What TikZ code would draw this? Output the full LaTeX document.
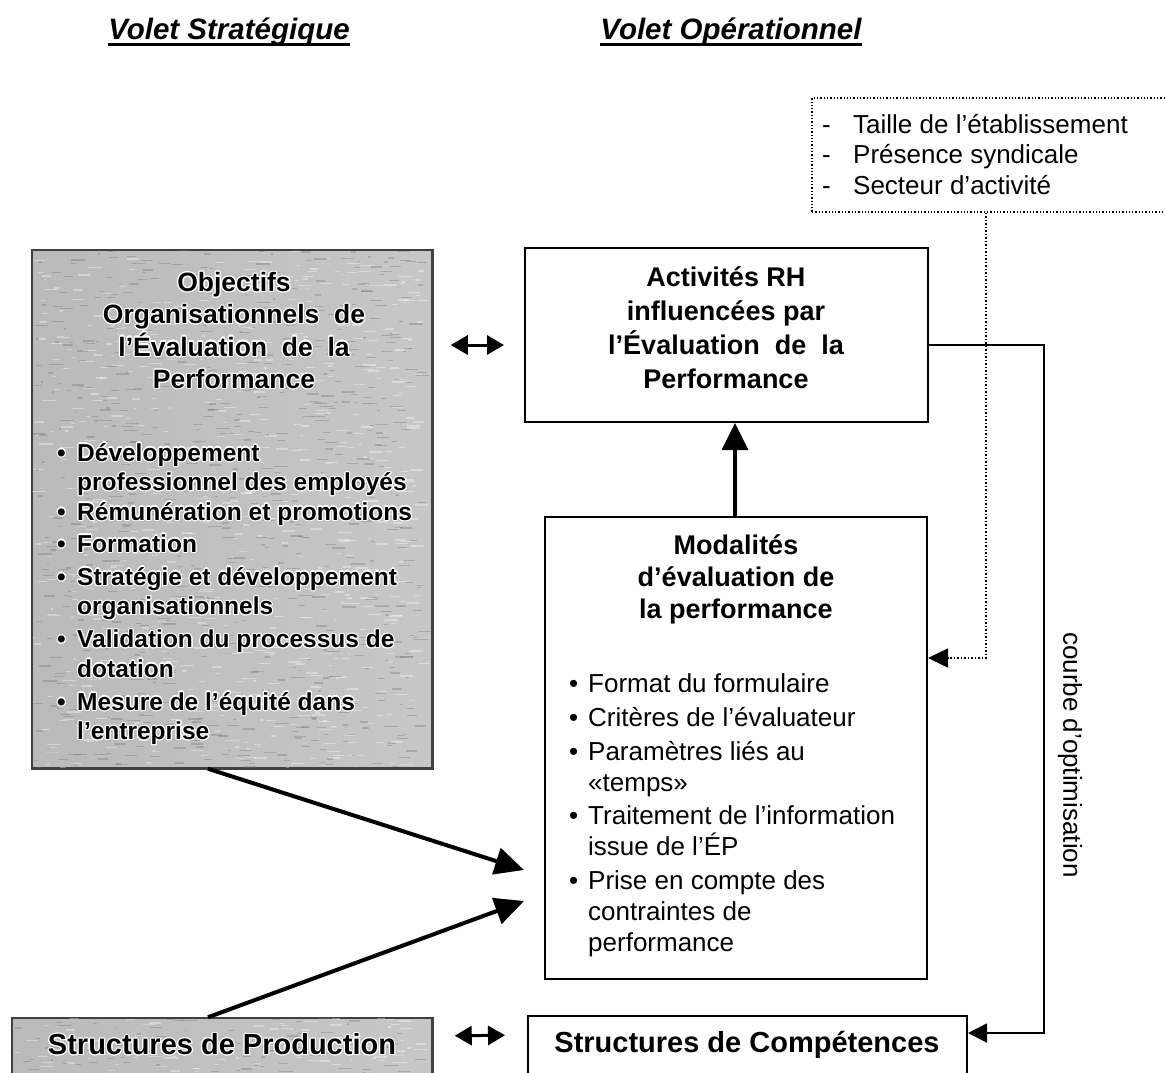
\documentclass[tikz,border=0pt]{standalone}
\usepackage{fontspec}
\setmainfont{Liberation Sans}
\usepackage{contour}
\contourlength{1.2pt}
\contournumber{12}
\usetikzlibrary{arrows.meta,calc}

% grey background of the strategic boxes: darker on the left edge
\pgfdeclarehorizontalshading{grain}{100bp}{color(0bp)=(black!60); color(6bp)=(black!42); color(18bp)=(black!28); color(100bp)=(black!19)}

\newcommand\blt[1]{\makebox[#1][l]{\textbullet}}
\newcommand\ind[1]{\hspace*{#1}}
\newcommand\hl[1]{\contour{white}{#1}}

% scattered streaks giving the printed grain: x0, y0, width, height, count
\newcommand\speckle[5]{%
  \foreach \k in {1,...,#5}{%
    \pgfmathsetmacro\px{#1+(#3-14)*rnd}%
    \pgfmathsetmacro\py{#2+#4*rnd}%
    \pgfmathsetmacro\pl{2+12*rnd}%
    \pgfmathsetmacro\pc{ifthenelse(rnd<0.5,55,0)}%
    \fill[black!\pc, opacity=0.35] (\px,\py) rectangle ++(\pl,1.3);
  }}

\tikzset{
  whitebox/.style={draw, line width=2pt, fill=white, inner sep=0pt},
  greybox/.style={draw=black!75, line width=1.5pt, shading=grain, inner sep=0pt},
  dotbox/.style={draw, dotted, line width=1.3pt, inner sep=0pt},
  txt/.style={inner sep=0pt},
  heading/.style={txt, font=\bfseries\itshape\fontsize{29.5}{34}\selectfont},
  bigarrow/.style={line width=4pt, -{Triangle[length=29pt,width=27pt]}},
  uparrow/.style={line width=3.5pt, -{Triangle[length=27pt,width=26pt]}},
  dblarrow/.style={line width=3pt, {Triangle[length=17pt,width=19pt]}-{Triangle[length=17pt,width=19pt]}},
  loopline/.style={line width=2pt, -{Triangle[length=19pt,width=19pt]}},
  dotline/.style={line width=1.5pt, dotted, -{Triangle[length=20pt,width=19pt]}},
}

\begin{document}
\begin{tikzpicture}[x=1pt,y=-1pt]
\useasboundingbox (0,0) rectangle (1165,1072);
\pgfmathsetseed{17}

% headings
\node[heading] (vs) at (229,32) {Volet Stratégique};
\node[heading] (vo) at (731,32) {Volet Opérationnel};
\draw[line width=3pt] ([yshift=-5pt]vs.base west) -- ([yshift=-5pt]vs.base east);
\draw[line width=3pt] ([yshift=-5pt]vo.base west) -- ([yshift=-5pt]vo.base east);

% contextual factors
\node[dotbox, minimum width=362pt, minimum height=114pt] (fac) at (993,155) {};
\node[txt, anchor=north west, align=left, font=\fontsize{26}{30.5}\selectfont] (factxt) at (822,114)
  {\makebox[31pt][l]{-}Taille de l’établissement\\\makebox[31pt][l]{-}Présence syndicale\\\makebox[31pt][l]{-}Secteur d’activité};

% strategic objectives
\node[greybox, minimum width=400pt, minimum height=518pt] (obj) at (232,509) {};
\begin{scope}
  \clip (obj.south west) rectangle (obj.north east);
  \speckle{32}{250}{400}{518}{1400}
\end{scope}
\draw[draw=black!75, line width=1.5pt] (obj.south west) rectangle (obj.north east);
\node[txt, anchor=north, align=center, font=\bfseries\fontsize{26.5}{32.3}\selectfont] (objtitle) at (234,272)
  {\hl{Objectifs}\\\hl{Organisationnels\ \ de}\\\hl{l’Évaluation\ \ de\ \ la}\\\hl{Performance}};
\node[txt, anchor=north west, align=left, font=\bfseries\fontsize{24.5}{29.5}\selectfont] (objlist) at (57,443)
  {\hl{\blt{20pt}Développement}\\\hl{\ind{20pt}professionnel des employés}\\[0pt]
   \hl{\blt{20pt}Rémunération et promotions}\\[2.5pt]
   \hl{\blt{20pt}Formation}\\[3.5pt]
   \hl{\blt{20pt}Stratégie et développement}\\\hl{\ind{20pt}organisationnels}\\[3.5pt]
   \hl{\blt{20pt}Validation du processus de}\\\hl{\ind{20pt}dotation}\\[3.5pt]
   \hl{\blt{20pt}Mesure de l’équité dans}\\\hl{\ind{20pt}l’entreprise}};

% HR activities
\node[whitebox, minimum width=403pt, minimum height=174pt] (act) at (726.5,335) {};
\node[txt, anchor=north, align=center, font=\bfseries\fontsize{27}{34.3}\selectfont] (acttxt) at (726,266)
  {Activités RH\\influencées par\\l’Évaluation\ \ de\ \ la\\Performance};

% appraisal modalities
\node[whitebox, minimum width=382pt, minimum height=462pt] (mod) at (736,748) {};
\node[txt, anchor=north, align=center, font=\bfseries\fontsize{27}{32}\selectfont] (modtitle) at (736,534)
  {Modalités\\d’évaluation de\\la performance};
\node[txt, anchor=north west, align=left, font=\fontsize{26}{31}\selectfont] (modlist) at (569,673)
  {\blt{19pt}Format du formulaire\\[3pt]
   \blt{19pt}Critères de l’évaluateur\\[3pt]
   \blt{19pt}Paramètres liés au\\\ind{19pt}«temps»\\[2pt]
   \blt{19pt}Traitement de l’information\\\ind{19pt}issue de l’ÉP\\[3pt]
   \blt{19pt}Prise en compte des\\\ind{19pt}contraintes de\\\ind{19pt}performance};

% structures
\node[greybox, minimum width=420pt, minimum height=58pt] (prod) at (222,1047) {};
\begin{scope}
  \clip (prod.south west) rectangle (prod.north east);
  \speckle{12}{1018}{420}{58}{180}
\end{scope}
\draw[draw=black!75, line width=1.5pt] (prod.south west) rectangle (prod.north east);
\node[txt, font=\bfseries\fontsize{29}{32}\selectfont] (prodtxt) at (222,1045) {\hl{Structures de Production}};
\node[whitebox, minimum width=439pt, minimum height=60pt] (comp) at (747.5,1046) {};
\node[txt, font=\bfseries\fontsize{29}{32}\selectfont] (comptxt) at (747,1045) {Structures de Compétences};

% connectors
\coordinate (tipA) at (524,870);
\coordinate (tipB) at (524,901);
\coordinate (dotx) at (986,658);
\coordinate (optx) at (1044,345);

\draw[dblarrow, shorten <=18pt, shorten >=20pt] (obj.east |- optx) -- (act.west |- optx);
\draw[dblarrow, shorten <=22pt, shorten >=22pt] ([yshift=11pt]prod.east) -- ([yshift=11pt]comp.west);
\draw[uparrow] (mod.north -| 735,0) -- (act.south -| 735,0);
\draw[bigarrow] ([xshift=-24pt]obj.south) -- (tipA);
\draw[bigarrow] ([xshift=-14pt]prod.north) -- (tipB);
\draw[loopline] (act.east |- optx) -- (optx) |- ([yshift=13pt]comp.east);
\draw[dotline] (fac.south -| dotx) -- (dotx) -- (mod.east |- dotx);

\node[txt, rotate=-90, font=\fontsize{26}{30}\selectfont] (courbe) at (1070,755) {courbe d’optimisation};
\end{tikzpicture}
\end{document}
